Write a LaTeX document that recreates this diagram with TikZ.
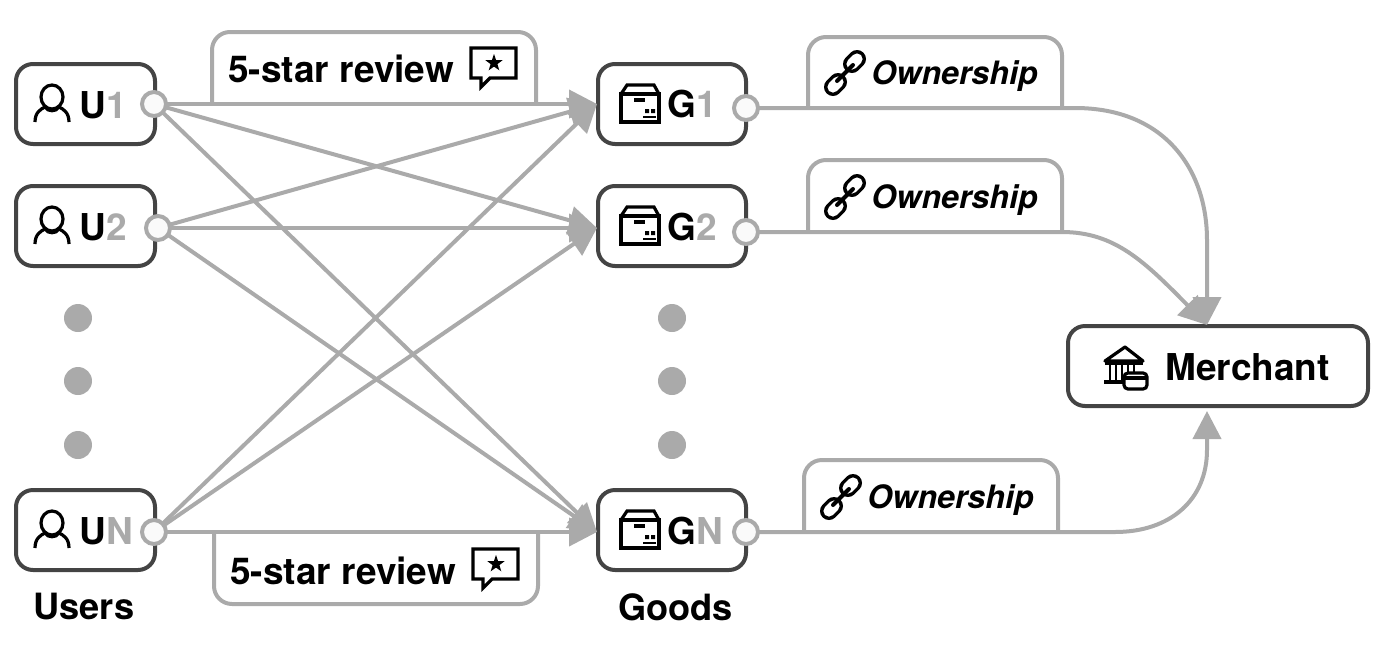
\documentclass[tikz,border=0pt]{standalone}
\usepackage{fontspec}
\setmainfont{TeX Gyre Heros}
\usetikzlibrary{arrows.meta}
\definecolor{edgegray}{HTML}{AAAAAA}
\definecolor{boxdark}{HTML}{444444}
\tikzset{
  x=0.5pt,y=-0.5pt,
  entity/.style={draw=boxdark,line width=2pt,rounded corners=8.5pt,fill=white,inner sep=0pt,minimum height=40pt},
  userbox/.style={entity,minimum width=69.5pt},
  goodbox/.style={entity,minimum width=74pt},
  merchbox/.style={entity,minimum width=150pt},
  tab/.style={draw=edgegray,line width=2pt,rounded corners=9pt},
  link/.style={draw=edgegray,line width=2pt},
  arr/.style={link,-{Triangle[length=14pt,width=14pt]}},
  port/.style={circle,draw=edgegray,line width=2pt,fill=black!2,minimum size=12pt,inner sep=0pt},
  dotmark/.style={circle,fill=edgegray,minimum size=14pt,inner sep=0pt},
  lbl/.style={anchor=base west,inner sep=0pt,font=\fontsize{18.5}{20}\selectfont\bfseries},
  caption/.style={anchor=base west,inner sep=0pt,font=\fontsize{18.1}{20}\selectfont\bfseries},
  own/.style={anchor=base west,inner sep=0pt,font=\fontsize{16.1}{18}\selectfont\bfseries\itshape},
  icon/.style={line width=1.6pt,draw=black},
  person/.pic={
    \draw[icon] (0,-7) ellipse [x radius=11,y radius=12];
    \draw[icon] (-17,18) .. controls (-17,8) and (-11,5) .. (-7,3) .. controls (-4,8) and (4,8) .. (7,3) .. controls (11,5) and (17,8) .. (17,18);
  },
  review/.pic={
    \draw[icon,line join=miter] (-23,-15) -- (22,-15) -- (22,15) -- (-4,15) -- (-13,24) -- (-13,15) -- (-23,15) -- cycle;
    \fill (0,-9) -- (2.1,-2.9) -- (8.6,-2.8) -- (3.4,1.1) -- (5.3,7.3) -- (0,3.6) -- (-5.3,7.3) -- (-3.4,1.1) -- (-8.6,-2.8) -- (-2.1,-2.9) -- cycle;
  },
  parcel/.pic={
    \draw[icon,line join=miter] (-19,-10) -- (19,-10) -- (19,18) -- (-19,18) -- cycle;
    \draw[icon,line join=miter] (-19,-10) -- (-13,-19) -- (14,-19) -- (19,-10);
    \draw[line width=1.6pt] (-6,-4) -- (5,-4);
    \fill (5,5) rectangle (9,9) (11,5) rectangle (15,9);
    \draw[line width=1.4pt] (3,13) -- (16,13);
  },
  chain/.pic={
    \draw[line width=9pt,line cap=round] (7,-9) -- (12,-14);
    \draw[line width=5.6pt,line cap=round,white] (7,-9) -- (12,-14);
    \draw[line width=9pt,line cap=round] (-7,9) -- (-12,14);
    \draw[line width=5.6pt,line cap=round,white] (-7,9) -- (-12,14);
    \draw[line width=2pt,line cap=round] (-8,8) -- (8,-8);
  },
  bank/.pic={
    \draw[line width=1.6pt,line join=round] (-20,-7) -- (0,-21) -- (18,-7) -- cycle;
    \draw[line width=1.6pt] (-20,-5) -- (18,-5);
    \foreach \cx in {-15,-9,-3,3,9} {\draw[line width=1.3pt] (\cx,-3) -- (\cx,12);}
    \draw[line width=2.2pt] (-21,14) -- (-2,14);
    \draw[line width=1.6pt,fill=white,rounded corners=2pt] (-1,5) rectangle (22,21);
    \draw[line width=1.6pt] (-1,10) -- (22,10);
  }
}
\begin{document}
\begin{tikzpicture}
\useasboundingbox (0,0) rectangle (1394,644);

% tabs
\draw[tab] (212,104) -- (212,32) -- (536,32) -- (536,104);
\draw[tab] (214,532) -- (214,604) -- (538,604) -- (538,532);
\draw[tab] (808,108) -- (808,37) -- (1062,37) -- (1062,108);
\draw[tab] (808,232) -- (808,160) -- (1062,160) -- (1062,232);
\draw[tab] (804,532) -- (804,460) -- (1058,460) -- (1058,532);

% entity boxes
\node[userbox] (u1) at (85.5,104) {};
\node[userbox] (u2) at (85.5,226) {};
\node[userbox] (un) at (85.5,530) {};
\node[goodbox] (g1) at (672,104) {};
\node[goodbox] (g2) at (672,226) {};
\node[goodbox] (gn) at (672,530) {};
\node[merchbox] (m) at (1218,366) {};

% connector ends
\coordinate (pu1) at (154,104);
\coordinate (pu2) at (158,228);
\coordinate (pun) at (154,532);
\coordinate (pg1) at (746,108);
\coordinate (pg2) at (746,232);
\coordinate (pgn) at (746,532);
\coordinate (t1) at (597,104);
\coordinate (t2) at (597,228);
\coordinate (tn) at (597,532);
\coordinate (mtop) at (1207,325);
\coordinate (mbot) at (1207,411);

% user-to-goods edges
\foreach \a in {pu1,pu2,pun} {
  \foreach \b in {t1,t2,tn} {
    \draw[arr] (\a) -- (\b);
  }
}

% ownership edges
\draw[arr] (pg1) -- (1075,108) .. controls (1165,108) and (1207,170) .. (1207,240) -- (mtop);
\draw[arr] (pg2) -- (1062,232) .. controls (1115,232) and (1145,262) .. (mtop);
\draw[arr] (pgn) -- (1115,532) .. controls (1170,532) and (1207,500) .. (1207,450) -- (mbot);

% ports
\node[port] (portu1) at (pu1) {};
\node[port] (portu2) at (pu2) {};
\node[port] (portun) at (pun) {};
\node[port] (portg1) at (pg1) {};
\node[port] (portg2) at (pg2) {};
\node[port] (portgn) at (pgn) {};

% ellipsis dots
\foreach \px in {78,672} {
  \foreach \py in {318,381,445} {
    \node[dotmark] (d\px\py) at (\px,\py) {};
  }
}

% labels
\node[lbl] (lu1) at (79,118) {U\textcolor{edgegray}{1}};
\node[lbl] (lu2) at (79,240) {U\textcolor{edgegray}{2}};
\node[lbl] (lun) at (79,544) {U\textcolor{edgegray}{N}};
\node[lbl] (lg1) at (667,117) {G\textcolor{edgegray}{1}};
\node[lbl] (lg2) at (667,240) {G\textcolor{edgegray}{2}};
\node[lbl] (lgn) at (667,544) {G\textcolor{edgegray}{N}};
\node[lbl] (lm) at (1165,380) {Merchant};
\node[lbl] (lr1) at (228,82) {5-star review};
\node[lbl] (lr2) at (230,584) {5-star review};
\node[caption] (lusers) at (33,619) {Users};
\node[caption] (lgoods) at (618,620) {Goods};
\node[own] (lo1) at (871,84) {Ownership};
\node[own] (lo2) at (871,208) {Ownership};
\node[own] (lo3) at (867,508) {Ownership};

% icons
\pic at (52,104) {person};
\pic at (52,226) {person};
\pic at (52,530) {person};
\pic at (494,63) {review};
\pic at (496,564) {review};
\pic at (640,104) {parcel};
\pic at (640,226) {parcel};
\pic at (640,530) {parcel};
\pic at (845,73) {chain};
\pic at (845,197) {chain};
\pic at (841,497) {chain};
\pic at (1125,368) {bank};
\end{tikzpicture}
\end{document}
